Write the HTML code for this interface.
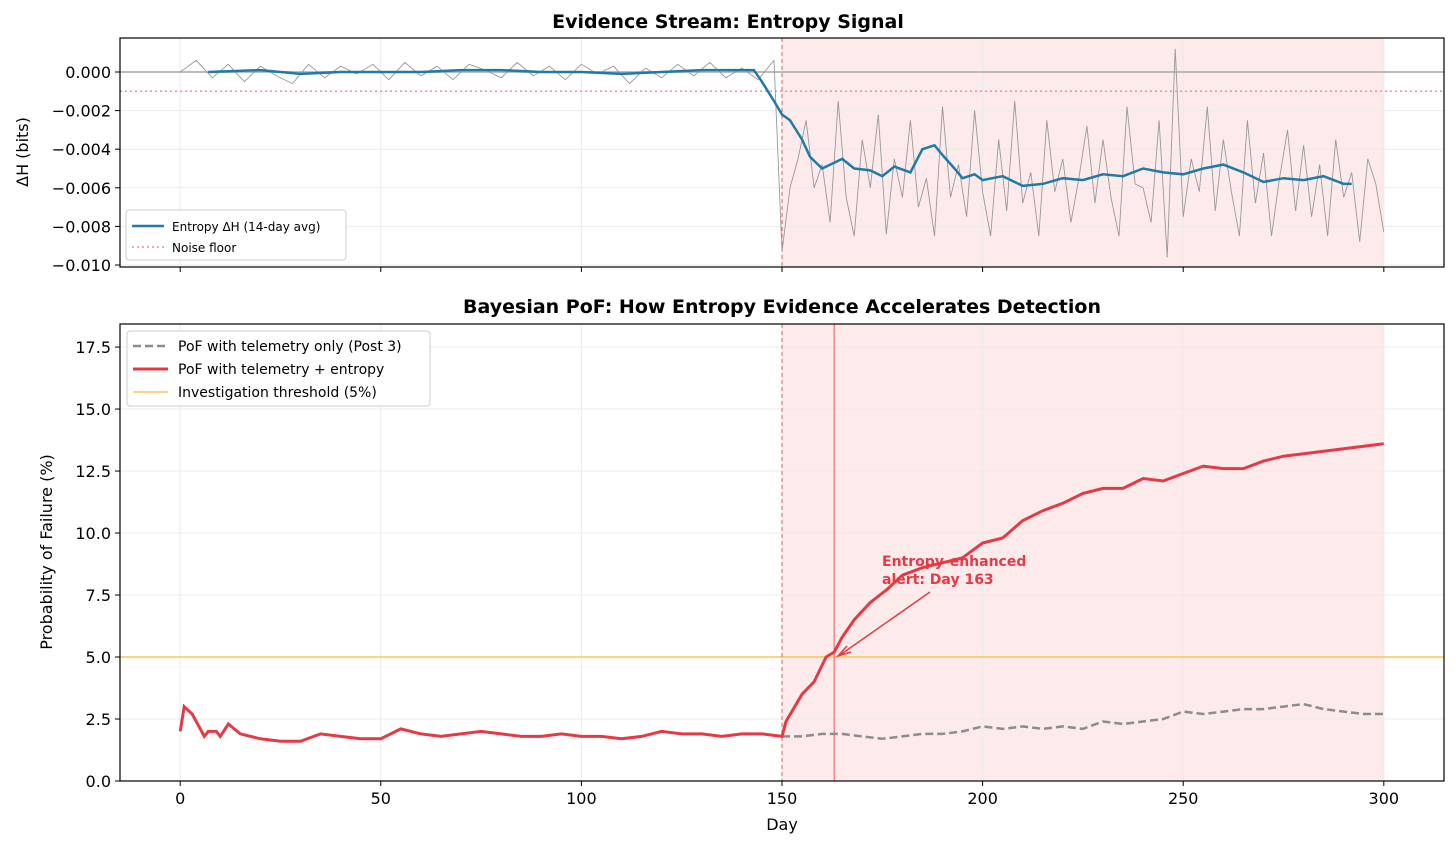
<!DOCTYPE html>
<html><head><meta charset="utf-8"><style>
body{margin:0;background:#fff;font-family:"Liberation Sans","DejaVu Sans",sans-serif}
svg text{font-family:"DejaVu Sans","Liberation Sans",sans-serif}
</style></head><body>
<svg id="c" width="1456" height="851" xmlns="http://www.w3.org/2000/svg"></svg>
<script>
const blueDays=[7,20,30,40,50,60,70,80,90,100,110,120,130,140,143,145,148,150,152,155,157,160,163,165,168,172,175,178,182,185,188,190,193,195,198,200,205,210,215,220,225,230,235,240,245,250,255,260,265,270,275,280,285,290,292];
const blueVals=[0,0.0001,-0.0001,0,0,0,0.0001,0.0001,0,0,-0.0001,0,0.0001,0.0001,0.0001,-0.0005,-0.0015,-0.0022,-0.0025,-0.0035,-0.0044,-0.005,-0.0047,-0.0045,-0.005,-0.0051,-0.0054,-0.0049,-0.0052,-0.004,-0.0038,-0.0043,-0.005,-0.0055,-0.0053,-0.0056,-0.0054,-0.0059,-0.0058,-0.0055,-0.0056,-0.0053,-0.0054,-0.005,-0.0052,-0.0053,-0.005,-0.0048,-0.0052,-0.0057,-0.0055,-0.0056,-0.0054,-0.0058,-0.0058];
const rawDays=[0,4,8,12,16,20,24,28,32,36,40,44,48,52,56,60,64,68,72,76,80,84,88,92,96,100,104,108,112,116,120,124,128,132,136,140,144,148,150,152,154,156,158,160,162,164,166,168,170,172,174,176,178,180,182,184,186,188,190,192,194,196,198,200,202,204,206,208,210,212,214,216,218,220,222,224,226,228,230,232,234,236,238,240,242,244,246,248,250,252,254,256,258,260,262,264,266,268,270,272,274,276,278,280,282,284,286,288,290,292,294,296,298,300];
const rawVals=[0,0.0006,-0.0003,0.0004,-0.0005,0.0003,-0.0002,-0.0006,0.0004,-0.0003,0.0003,-0.0001,0.0004,-0.0004,0.0005,-0.0002,0.0003,-0.0004,0.0004,0.0001,-0.0003,0.0005,-0.0002,0.0003,-0.0004,0.0004,-0.0001,0.0003,-0.0006,0.0002,-0.0003,0.0004,-0.0002,0.0005,-0.0003,0.0002,-0.0004,0.0006,-0.0093,-0.006,-0.0045,-0.0025,-0.006,-0.0048,-0.0078,-0.0015,-0.0065,-0.0085,-0.0035,-0.006,-0.0022,-0.0084,-0.0045,-0.0065,-0.0025,-0.007,-0.0055,-0.0085,-0.0018,-0.0065,-0.0048,-0.0075,-0.002,-0.0062,-0.0085,-0.0035,-0.0072,-0.0015,-0.0068,-0.0052,-0.0085,-0.0025,-0.0062,-0.0045,-0.0078,-0.0055,-0.0028,-0.0068,-0.0035,-0.0065,-0.0085,-0.0018,-0.0058,-0.006,-0.0078,-0.0025,-0.0096,0.0012,-0.0075,-0.0045,-0.0062,-0.0018,-0.0072,-0.0035,-0.0062,-0.0085,-0.0025,-0.0068,-0.0042,-0.0085,-0.0055,-0.003,-0.0072,-0.0038,-0.0075,-0.0048,-0.0085,-0.0035,-0.0065,-0.0052,-0.0088,-0.0045,-0.0058,-0.0083];
const redDays=[0,1,3,6,7,9,10,12,15,20,25,30,35,40,45,50,55,60,65,70,75,80,85,90,95,100,105,110,115,120,125,130,135,140,145,150,151,155,158,161,163,165,168,172,176,180,185,190,195,200,205,210,215,220,225,230,235,240,245,250,255,260,265,270,275,280,285,290,295,300];
const redVals=[2.0,3.0,2.7,1.8,2.0,2.0,1.8,2.3,1.9,1.7,1.6,1.6,1.9,1.8,1.7,1.7,2.1,1.9,1.8,1.9,2.0,1.9,1.8,1.8,1.9,1.8,1.8,1.7,1.8,2.0,1.9,1.9,1.8,1.9,1.9,1.8,2.4,3.5,4.0,5.0,5.2,5.8,6.5,7.2,7.7,8.3,8.6,8.8,9.0,9.6,9.8,10.5,10.9,11.2,11.6,11.8,11.8,12.2,12.1,12.4,12.7,12.6,12.6,12.9,13.1,13.2,13.3,13.4,13.5,13.6];
const grayDays=[150,155,160,165,170,175,180,185,190,195,200,205,210,215,220,225,230,235,240,245,250,255,260,265,270,275,280,285,290,295,300];
const grayVals=[1.8,1.8,1.9,1.9,1.8,1.7,1.8,1.9,1.9,2.0,2.2,2.1,2.2,2.1,2.2,2.1,2.4,2.3,2.4,2.5,2.8,2.7,2.8,2.9,2.9,3.0,3.1,2.9,2.8,2.7,2.7];
const xTicks=[0,50,100,150,200,250,300];
const topYTicks=[0,-0.002,-0.004,-0.006,-0.008,-0.01];
const botYTicks=[0,2.5,5,7.5,10,12.5,15,17.5];

const svg=document.getElementById('c');const NS='http://www.w3.org/2000/svg';
function el(t,a,txt){const e=document.createElementNS(NS,t);for(const k in a)e.setAttribute(k,a[k]);if(txt!==undefined)e.textContent=txt;svg.appendChild(e);return e;}
const L=120,R=1444;
const X=d=>L+(d+15)/330*(R-L);
const T0=38,T1=267,B0=324,B1=781;
const Yt=v=>72-v/0.001*19.3;
const Yb=v=>B1-v/18.43*(B1-B0);
function pts(ds,vs,Y){return ds.map((d,i)=>X(d).toFixed(1)+','+Y(vs[i]).toFixed(1)).join(' ');}

function panel(top,bot,yt,Y,fmt,name){
  let r=el('rect',{x:X(150),y:top,width:X(300)-X(150),height:bot-top,fill:'#fdeaea'});
  
  xTicks.forEach(t=>{el('line',{x1:X(t),x2:X(t),y1:top,y2:bot,stroke:'#ebebeb','stroke-width':1});el('line',{x1:X(t),x2:X(t),y1:bot,y2:bot+5,stroke:'#000'});});
  yt.forEach(t=>{const y=Y(t);el('line',{x1:L,x2:R,y1:y,y2:y,stroke:'#ebebeb'});el('line',{x1:L-5,x2:L,y1:y,y2:y,stroke:'#000'});
    const tx=el('text',{x:L-9,y:y+6,'text-anchor':'end','font-size':16},fmt(t));});
}
panel(T0,T1,topYTicks,Yt,v=>v===0?'0.000':'\u2212'+Math.abs(v).toFixed(3),'top');
panel(B0,B1,botYTicks,Yb,v=>v.toFixed(1),'bottom');
el('line',{x1:L,x2:R,y1:Yt(0),y2:Yt(0),stroke:'#bbb','stroke-width':2});
el('line',{x1:L,x2:R,y1:Yt(-0.001),y2:Yt(-0.001),stroke:'#f28b9b','stroke-width':1.5,'stroke-dasharray':'2,3'});
el('line',{x1:X(150),x2:X(150),y1:T0,y2:T1,stroke:'#e85a5a','stroke-width':1,'stroke-dasharray':'4,3'});
let p=el('polyline',{points:pts(rawDays,rawVals,Yt),fill:'none',stroke:'#999','stroke-width':0.9});

p=el('polyline',{points:pts(blueDays,blueVals,Yt),fill:'none',stroke:'#1f7aa8','stroke-width':2.5});

el('line',{x1:L,x2:R,y1:Yb(5),y2:Yb(5),stroke:'#f9c74f','stroke-width':1.5});
el('line',{x1:X(150),x2:X(150),y1:B0,y2:B1,stroke:'#e85a5a','stroke-width':1,'stroke-dasharray':'4,3'});
el('line',{x1:X(163),x2:X(163),y1:B0,y2:B1,stroke:'#e85a5a','stroke-width':1});
p=el('polyline',{points:pts(grayDays,grayVals,Yb),fill:'none',stroke:'#8c8c8c','stroke-width':2.5,'stroke-dasharray':'8,4'});

p=el('polyline',{points:pts(redDays,redVals,Yb),fill:'none',stroke:'#e63946','stroke-width':3});

el('line',{x1:930,y1:592,x2:840,y2:655,stroke:'#e63946','stroke-width':1.5});
el('polyline',{points:'847,646 838,656 851,652',fill:'none',stroke:'#e63946','stroke-width':1.5});
let a=el('text',{x:882,y:566,'font-size':14,'font-weight':'bold',fill:'#e63946'},'Entropy-enhanced');

el('text',{x:882,y:584,'font-size':14,'font-weight':'bold',fill:'#e63946'},'alert: Day 163');
[[T0,T1],[B0,B1]].forEach(([a1,b1])=>el('rect',{x:L,y:a1,width:R-L,height:b1-a1,fill:'none',stroke:'#000','stroke-width':1.2}));
xTicks.forEach(t=>{const tx=el('text',{x:X(t),y:804,'text-anchor':'middle','font-size':16},String(t));});
el('text',{x:782,y:830,'text-anchor':'middle','font-size':16},'Day');
el('text',{x:728,y:28,'text-anchor':'middle','font-size':19,'font-weight':'bold'},'Evidence Stream: Entropy Signal');
el('text',{x:782,y:313,'text-anchor':'middle','font-size':19,'font-weight':'bold'},'Bayesian PoF: How Entropy Evidence Accelerates Detection');
el('text',{x:0,y:0,'text-anchor':'middle','font-size':16,transform:'translate(28,152) rotate(-90)'},'\u0394H (bits)');
el('text',{x:0,y:0,'text-anchor':'middle','font-size':16,transform:'translate(52,552) rotate(-90)'},'Probability of Failure (%)');
el('rect',{x:126,y:210,width:220,height:50,fill:'#fff',stroke:'#ccc',rx:3});
el('line',{x1:132,x2:164,y1:226,y2:226,stroke:'#1f7aa8','stroke-width':2.5});
el('text',{x:172,y:231,'font-size':12},'Entropy \u0394H (14-day avg)');
el('line',{x1:132,x2:164,y1:247,y2:247,stroke:'#f28b9b','stroke-width':1.5,'stroke-dasharray':'2,3'});
el('text',{x:172,y:252,'font-size':12},'Noise floor');
el('rect',{x:127,y:331,width:303,height:75,fill:'#fff',stroke:'#ccc',rx:3});
el('line',{x1:133,x2:168,y1:346,y2:346,stroke:'#8c8c8c','stroke-width':2.5,'stroke-dasharray':'8,4'});
el('text',{x:178,y:351,'font-size':14},'PoF with telemetry only (Post 3)');
el('line',{x1:133,x2:168,y1:369,y2:369,stroke:'#e63946','stroke-width':3});
el('text',{x:178,y:374,'font-size':14},'PoF with telemetry + entropy');
el('line',{x1:133,x2:168,y1:392,y2:392,stroke:'#f9c74f','stroke-width':1.5});
el('text',{x:178,y:397,'font-size':14},'Investigation threshold (5%)');
</script>
</body></html>
